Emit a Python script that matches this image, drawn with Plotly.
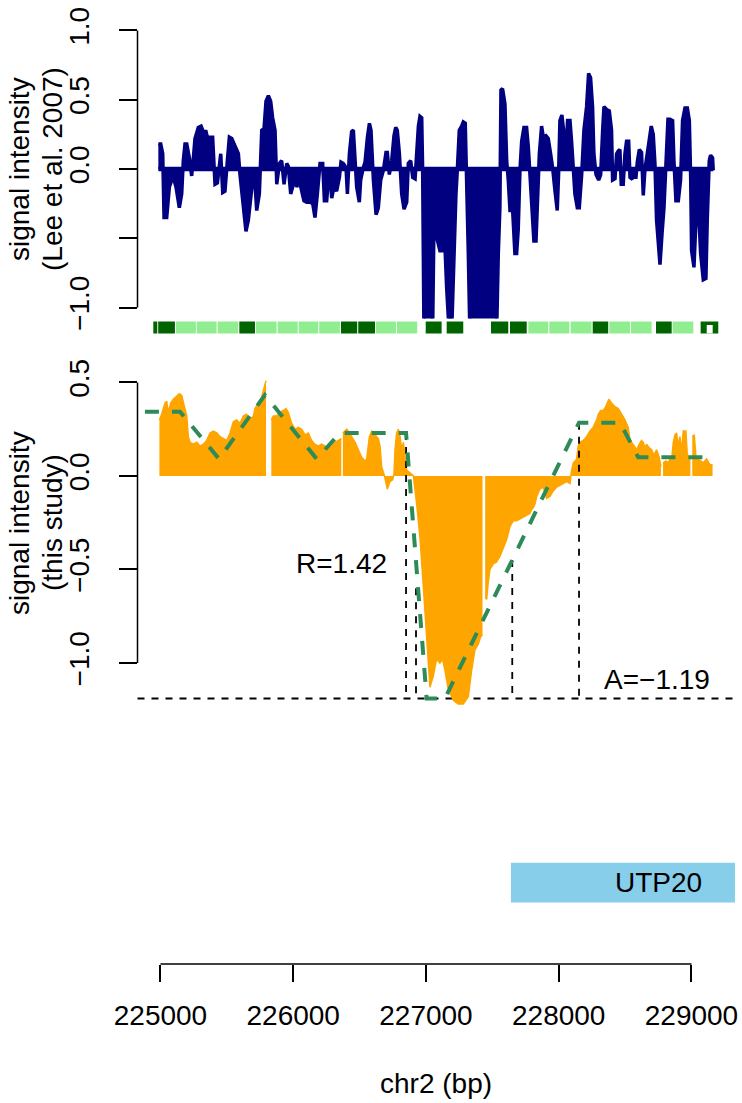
import plotly.graph_objects as go

# ---------------- data ----------------
# Lee et al. 2007 signal (top panel)
lee_pos = [224984, 225002, 225017, 225027, 225047, 225067, 225085, 225097, 225117, 225142,
           225160, 225172, 225185, 225198, 225218, 225235, 225248, 225260, 225285, 225306,
           225323, 225343, 225361, 225373, 225393, 225411, 225429, 225444, 225454, 225469,
           225486, 225504, 225519, 225537, 225562, 225587, 225599, 225624, 225644, 225662,
           225687, 225705, 225725, 225745, 225763, 225780, 225795, 225813, 225830, 225845,
           225863, 225876, 225896, 225913, 225931, 225951, 225963, 225981, 226001, 226014,
           226026, 226046, 226064, 226081, 226102, 226127, 226147, 226164, 226182, 226202,
           226222, 226235, 226252, 226272, 226290, 226307, 226327, 226348, 226360, 226378,
           226398, 226408, 226423, 226440, 226453, 226466, 226478, 226498, 226508, 226528,
           226541, 226559, 226574, 226586, 226604, 226624, 226641, 226659, 226679, 226699,
           226709, 226724, 226742, 226759, 226772, 226784, 226800, 226817, 226835, 226855,
           226867, 226885, 226900, 226918, 226930, 226943, 226955, 226968, 226975, 226985,
           227050, 227060, 227080, 227105, 227125, 227135, 227156, 227176, 227193, 227211,
           227226, 227236, 227251, 227269, 227281, 227296, 227306, 227319, 227331, 227532,
           227545, 227557, 227565, 227577, 227595, 227608, 227620, 227633, 227653, 227670,
           227683, 227695, 227708, 227721, 227738, 227758, 227771, 227783, 227796, 227813,
           227829, 227839, 227854, 227871, 227884, 227904, 227921, 227939, 227954, 227972,
           227989, 227999, 228009, 228024, 228039, 228054, 228067, 228085, 228097, 228110,
           228122, 228140, 228155, 228173, 228190, 228210, 228225, 228240, 228255, 228265,
           228281, 228301, 228316, 228331, 228341, 228361, 228381, 228398, 228406, 228424,
           228436, 228449, 228461, 228471, 228486, 228499, 228511, 228527, 228537, 228549,
           228567, 228582, 228592, 228607, 228624, 228637, 228650, 228667, 228682, 228697,
           228712, 228725, 228737, 228752, 228763, 228778, 228793, 228808, 228823, 228838,
           228858, 228868, 228883, 228901, 228918, 228933, 228951, 228969, 228984, 228994,
           229001, 229019, 229034, 229051, 229069, 229089, 229109, 229119, 229134, 229144,
           229159, 229164]
lee_val = [0.18, 0.18, 0.11, -0.35, -0.35, -0.13, -0.08, -0.06, -0.13, -0.28,
           -0.18, 0.06, 0.18, 0.18, 0.08, -0.05, 0.08, 0.22, 0.30, 0.31,
           0.27, 0.27, 0.20, 0.23, 0.23, -0.11, -0.10, 0.06, 0.11, -0.17,
           -0.16, 0.06, 0.23, 0.22, 0.16, 0.11, -0.04, -0.30, -0.45, -0.37,
           -0.11, 0.01, -0.30, -0.18, 0.28, 0.29, 0.49, 0.53, 0.49, 0.37,
           0.28, -0.11, 0.04, 0.06, -0.11, 0.04, 0.02, -0.18, -0.11, -0.04,
           -0.13, -0.08, -0.16, -0.23, -0.24, -0.24, -0.25, -0.35, -0.18, 0.04,
           0.04, -0.23, -0.23, 0.01, -0.21, -0.13, -0.16, -0.06, 0.05, 0.04,
           0.01, -0.18, 0.11, 0.27, 0.28, 0.11, -0.13, -0.24, -0.08, 0.01,
           0.05, 0.23, 0.33, 0.28, -0.08, -0.33, -0.28, -0.08, -0.01, 0.12,
           0.12, -0.04, 0.06, 0.24, 0.30, 0.28, 0.11, -0.18, -0.29, -0.24,
           0.04, 0.06, -0.06, -0.07, 0.11, 0.31, 0.38, 0.37, 0.0, -1.2,
           -1.2, -0.42, -0.49, -0.59, -0.59, -0.37, -0.86, -1.2, -1.2, -0.61,
           -0.18, -0.01, 0.28, 0.31, 0.34, 0.33, 0.01, -0.61, -1.2, -1.2,
           -0.61, -0.28, 0.57, 0.58, 0.47, 0.06, -0.08, -0.30, -0.30, -0.61,
           -0.61, -0.44, -0.01, 0.20, 0.30, 0.30, 0.16, -0.04, -0.28, -0.52,
           -0.52, -0.30, 0.11, 0.31, 0.23, 0.24, 0.22, 0.11, 0.01, -0.16,
           -0.30, -0.04, 0.35, 0.39, 0.28, 0.13, 0.35, 0.35, 0.20, 0.01,
           -0.18, -0.28, -0.28, -0.04, 0.28, 0.45, 0.69, 0.66, 0.45, 0.11,
           -0.04, -0.08, -0.04, 0.28, 0.45, 0.43, 0.42, 0.28, -0.08, -0.07,
           0.11, 0.13, 0.14, -0.11, -0.11, 0.11, 0.20, 0.20, -0.06, -0.07,
           -0.06, -0.06, 0.05, 0.14, 0.12, -0.19, 0.00, 0.11, 0.23, 0.31,
           0.25, 0.04, -0.37, -0.61, -0.69, -0.47, -0.28, 0.04, 0.36, 0.36,
           0.35, 0.06, -0.23, -0.23, -0.08, 0.35, 0.44, 0.44, 0.35, -0.06,
           -0.59, -0.71, -0.37, -0.25, -0.61, -0.80, -0.79, -0.37, 0.06, 0.10,
           0.08, -0.01]

# this-study signal (middle panel); None marks a gap between probe blocks
study_pos = [224992, 225009, 225034, 225047, 225059, 225077, 225097, 225122, 225142, 225160,
             225185, 225198, 225210, 225223, 225248, 225273, 225298, 225323, 225348, 225373,
             225398, 225424, 225449, 225474, 225499, 225524, 225549, 225574, 225599, 225624,
             225649, 225675, 225700, 225712, 225737, 225762, 225780, 225795, None,
             225835, 225850, 225876, 225901, 225926, 225946, 225963, 225989, 226014, 226039,
             226064, 226089, 226114, 226139, 226164, 226189, 226214, 226240, 226265, 226290,
             226315, 226340, 226362, None,
             226374, 226403, 226423, 226440, 226466, 226491, 226516, 226541, 226553, 226574,
             226591, 226616, 226641, 226654, 226666, 226684, 226699, 226709, 226729, 226749,
             226759, 226767, 226779, 226792, 226805, 226817, 226830, 226842, 226855, 226875,
             226893, 226905, 226930, 226955, 226980, 227005, 227030, 227055, 227080, 227105,
             227125, 227143, 227168, 227206, 227243, 227281, 227319, 227344, 227369, 227394,
             227412, 227426, None,
             227446, 227457, 227469, 227482, 227507, 227532, 227557, 227582, 227608, 227633,
             227658, 227683, 227708, 227733, 227758, 227783, 227796, 227808, 227821, 227834,
             227859, 227884, 227909, 227934, 227959, 227984, 228009, 228034, 228060, 228085,
             228097, 228110, 228135, 228147, 228160, 228185, 228210, 228235, 228260, 228286,
             228298, 228316, 228336, 228353, 228368, 228378, 228398, 228424, 228449, 228474,
             228499, 228524, 228537, 228549, 228567, 228587, 228607, 228624, 228637, 228650,
             228662, 228682, 228700, 228717, 228737, 228757, 228770, None,
             228786, 228808, 228825, 228838, 228850, 228863, 228876, 228888, 228901, 228913,
             228926, 228938, 228958, 228968, 228984, 228992, None,
             229006, 229021, 229034, 229051, 229069, 229089, 229114, 229139, 229159]
study_val = [0.30, 0.33, 0.39, 0.40, 0.34, 0.39, 0.41, 0.43, 0.44, 0.43,
             0.35, 0.32, 0.21, 0.18, 0.17, 0.18, 0.16, 0.17, 0.19, 0.23,
             0.24, 0.23, 0.21, 0.20, 0.19, 0.23, 0.29, 0.30, 0.28, 0.32,
             0.33, 0.30, 0.32, 0.36, 0.39, 0.42, 0.47, 0.51, None,
             0.30, 0.32, 0.32, 0.34, 0.35, 0.36, 0.34, 0.28, 0.25, 0.26,
             0.25, 0.22, 0.23, 0.19, 0.17, 0.16, 0.17, 0.16, 0.15, 0.16,
             0.18, 0.19, 0.20, None,
             0.23, 0.25, 0.23, 0.21, 0.18, 0.14, 0.10, 0.08, 0.09, 0.21,
             0.24, 0.22, 0.20, 0.16, 0.05, 0.01, -0.04, -0.07, -0.03, -0.02,
             0.01, 0.14, 0.23, 0.25, 0.21, 0.14, 0.18, 0.10, 0.03, 0.02,
             0.01, 0.0, -0.15, -0.33, -0.59, -0.86, -1.13, -1.07, -0.98, -1.00,
             -0.98, -1.04, -1.14, -1.20, -1.22, -1.22, -1.18, -1.04, -0.93, -0.90,
             -0.86, -0.85, None,
             -0.65, -0.66, -0.57, -0.50, -0.47, -0.46, -0.43, -0.38, -0.34, -0.27,
             -0.24, -0.24, -0.23, -0.22, -0.21, -0.20, -0.18, -0.17, -0.15, -0.11,
             -0.07, -0.06, -0.12, -0.11, -0.08, -0.06, -0.05, -0.04, -0.03, -0.04,
             0.03, 0.07, 0.09, 0.16, 0.18, 0.19, 0.21, 0.24, 0.26, 0.30,
             0.33, 0.35, 0.35, 0.37, 0.40, 0.41, 0.39, 0.37, 0.36, 0.33,
             0.30, 0.26, 0.19, 0.18, 0.16, 0.14, 0.17, 0.19, 0.18, 0.15,
             0.17, 0.15, 0.14, 0.11, 0.14, 0.10, 0.05, None,
             0.07, 0.08, 0.07, 0.09, 0.08, 0.18, 0.22, 0.23, 0.16, 0.21,
             0.13, 0.24, 0.24, 0.12, 0.09, 0.09, None,
             0.21, 0.22, 0.10, 0.09, 0.08, 0.07, 0.09, 0.06, 0.06]

# piecewise-linear fit (green dashed)
fit_pos = [224883, 225147, 225441, 225787, 226177, 226352, 226850, 227005, 227143,
           228153, 228462, 228599, 229164]
fit_val = [0.344, 0.344, 0.091, 0.433, 0.091, 0.23, 0.23, -1.19, -1.19,
           0.285, 0.285, 0.10, 0.10]

# segment markers (black dashed verticals) and summary values
mark_pos = [226850, 226925, 227650, 228153]
mark_top = [0.23, -0.60, -0.45, 0.285]
A_value = -1.19
R_value = 1.42
R_label_pos = (226365, -0.467)
A_label_pos = (228738, -1.09)

# probe tiling track (dark = D, light = L)
track_start = [224946, 224983, 225117, 225273, 225431, 225594, 225719, 225883, 226041,
               226196, 226360, 226490, 226623, 226781, 226998, 227156, 227490, 227633,
               227771, 227929, 228090, 228256, 228381, 228544, 228733, 228858, 229069]
track_end = [224976, 225109, 225267, 225423, 225586, 225712, 225875, 226034, 226189,
             226352, 226482, 226616, 226774, 226934, 227118, 227281, 227620, 227759,
             227921, 228080, 228248, 228373, 228537, 228700, 228851, 229014, 229202]
track_state = ['D', 'D', 'L', 'L', 'L', 'D', 'L', 'L', 'L', 'L', 'D', 'D', 'L', 'L',
               'D', 'D', 'D', 'D', 'L', 'L', 'L', 'D', 'L', 'L', 'D', 'L', 'D']
track_hole = (229115, 229160)

# gene annotation
gene_name = "UTP20"
gene_start = 227640
gene_end = 229860
gene_label_pos = 228750

# axes
x_ticks = [225000, 226000, 227000, 228000, 229000]
top_ticks = [-1.0, -0.5, 0.0, 0.5, 1.0]
top_ticktext = ["\u22121.0", "", "0.0", "0.5", "1.0"]
mid_ticks = [-1.0, -0.5, 0.0, 0.5]
mid_ticktext = ["\u22121.0", "\u22120.5", "0.0", "0.5"]

# ---------------- figure ----------------
W, H = 742, 1103
FONT = "Liberation Sans, Arial, Helvetica, sans-serif"
FS = 28
NAVY = "#000080"
ORANGE = "#FFA500"
SEAGREEN = "#2E8B57"
DARKGREEN = "#006400"
LIGHTGREEN = "#90EE90"
SKYBLUE = "#87CEEB"


def fx(p):   # page pixel x -> paper
    return p / W


def fy(p):   # page pixel y -> paper
    return 1 - p / H


XR = [224827, 229328]
dom_x = [fx(137.5), fx(735)]

fig = go.Figure()

# top: Lee et al. signal
fig.add_trace(go.Scatter(x=lee_pos, y=lee_val, mode="lines", fill="tozeroy",
                         fillcolor=NAVY, line=dict(color=NAVY, width=3.5),
                         xaxis="x", yaxis="y", hoverinfo="skip"))
fig.add_trace(go.Scatter(x=[lee_pos[0], lee_pos[-1]], y=[0, 0], mode="lines",
                         line=dict(color=NAVY, width=4.5), xaxis="x", yaxis="y",
                         hoverinfo="skip"))

# middle: this study signal, split into blocks at gaps
seg_x, seg_y = [], []
for px_, vy_ in zip(study_pos + [None], study_val + [None]):
    if px_ is None:
        if seg_x:
            fig.add_trace(go.Scatter(x=seg_x, y=seg_y, mode="lines", fill="tozeroy",
                                     fillcolor=ORANGE, line=dict(color=ORANGE, width=1.5),
                                     xaxis="x2", yaxis="y2", hoverinfo="skip"))
        seg_x, seg_y = [], []
    else:
        seg_x.append(px_)
        seg_y.append(vy_)

# black dashed verticals
vx, vy = [], []
for p, t in zip(mark_pos, mark_top):
    vx += [p, p, None]
    vy += [t, A_value, None]
fig.add_trace(go.Scatter(x=vx, y=vy, mode="lines",
                         line=dict(color="black", width=1.8, dash="7px,7px"),
                         xaxis="x2", yaxis="y2", hoverinfo="skip"))

# fit line
fig.add_trace(go.Scatter(x=fit_pos, y=fit_val, mode="lines",
                         line=dict(color=SEAGREEN, width=4, dash="14px,13px"),
                         xaxis="x2", yaxis="y2", hoverinfo="skip"))

shapes = []
# horizontal A line across the middle plot region
shapes.append(dict(type="line", xref="x2 domain", yref="y2", x0=0, x1=1,
                   y0=A_value, y1=A_value, layer="below",
                   line=dict(color="black", width=1.8, dash="7px,7px")))

# tiling track
ty0, ty1 = fy(333.5), fy(321.5)
for s, e, st in zip(track_start, track_end, track_state):
    shapes.append(dict(type="rect", xref="x", yref="paper", x0=s, x1=e, y0=ty0, y1=ty1,
                       fillcolor=DARKGREEN if st == "D" else LIGHTGREEN,
                       line=dict(width=0), layer="above"))
shapes.append(dict(type="rect", xref="x", yref="paper", x0=track_hole[0], x1=track_hole[1],
                   y0=ty0, y1=fy(325), fillcolor="white", line=dict(width=0),
                   layer="above"))

# gene box
shapes.append(dict(type="rect", xref="x3", yref="y3", x0=gene_start, x1=gene_end,
                   y0=0.274, y1=0.452, fillcolor=SKYBLUE, line=dict(width=0),
                   layer="below"))

# axis lines spanning the tick range (R style)
shapes.append(dict(type="line", xref="x domain", yref="y", x0=0, x1=0,
                   y0=top_ticks[0], y1=top_ticks[-1], line=dict(color="black", width=1.5)))
shapes.append(dict(type="line", xref="x2 domain", yref="y2", x0=0, x1=0,
                   y0=mid_ticks[0], y1=mid_ticks[-1], line=dict(color="black", width=1.5)))
shapes.append(dict(type="line", xref="x3", yref="y3 domain", x0=x_ticks[0], x1=x_ticks[-1],
                   y0=0, y1=0, line=dict(color="black", width=1.5)))

annotations = [
    dict(text="signal intensity", xref="paper", yref="paper", x=fx(19), y=fy(169),
         textangle=-90, showarrow=False, xanchor="center", yanchor="middle"),
    dict(text="(Lee et al. 2007)", xref="paper", yref="paper", x=fx(52), y=fy(169),
         textangle=-90, showarrow=False, xanchor="center", yanchor="middle"),
    dict(text="signal intensity", xref="paper", yref="paper", x=fx(19), y=fy(523),
         textangle=-90, showarrow=False, xanchor="center", yanchor="middle"),
    dict(text="(this study)", xref="paper", yref="paper", x=fx(52), y=fy(523),
         textangle=-90, showarrow=False, xanchor="center", yanchor="middle"),
    dict(text="R=%.2f" % R_value, xref="x2", yref="y2", x=R_label_pos[0], y=R_label_pos[1],
         showarrow=False, xanchor="center", yanchor="middle"),
    dict(text="A=\u2212%.2f" % abs(A_value), xref="x2", yref="y2", x=A_label_pos[0],
         y=A_label_pos[1], showarrow=False, xanchor="center", yanchor="middle"),
    dict(text=gene_name, xref="x3", yref="y3", x=gene_label_pos, y=0.363,
         showarrow=False, xanchor="center", yanchor="middle"),
    dict(text="chr2 (bp)", xref="paper", yref="paper", x=fx(436.5), y=fy(1083),
         showarrow=False, xanchor="center", yanchor="middle"),
]

yaxis_common = dict(showgrid=False, zeroline=False, showline=False, ticks="outside",
                    ticklen=18, tickwidth=1.5, tickcolor="black", tickangle=-90,
                    automargin=False, ticklabelstandoff=18, ticklabeloverflow="allow",
                    tickfont=dict(size=FS, family=FONT, color="black"))

fig.update_layout(
    template="none",
    width=W, height=H, margin=dict(l=0, r=0, t=0, b=0, pad=0), autosize=False,
    paper_bgcolor="white", plot_bgcolor="white", showlegend=False,
    font=dict(family=FONT, size=FS, color="black"),
    xaxis=dict(domain=dom_x, range=XR, visible=False, anchor="y", automargin=False),
    yaxis=dict(domain=[fy(318.6), fy(19.4)], range=[-1.08, 1.08], anchor="x",
               tickvals=top_ticks, ticktext=top_ticktext, **yaxis_common),
    xaxis2=dict(domain=dom_x, range=XR, visible=False, anchor="y2", automargin=False),
    yaxis2=dict(domain=[fy(717), fy(367.5)], range=[-1.289, 0.580], anchor="x2",
                tickvals=mid_ticks, ticktext=mid_ticktext, **yaxis_common),
    xaxis3=dict(domain=dom_x, range=XR, anchor="y3", showgrid=False, zeroline=False,
                showline=False, ticks="outside", ticklen=17, tickwidth=1.5,
                tickcolor="black", tickvals=x_ticks, ticktext=[str(v) for v in x_ticks],
                automargin=False, ticklabelstandoff=9, ticklabeloverflow="allow",
                tickfont=dict(size=FS, family=FONT, color="black")),
    yaxis3=dict(domain=[fy(964), fy(740)], range=[0, 1], visible=False, anchor="x3",
                automargin=False),
    shapes=shapes,
    annotations=annotations,
)

# remove the default 8px page margin so the figure sits at the window origin
fig.write_html("out.html", config={"displayModeBar": False},
               post_script="document.body.style.margin='0';document.body.style.padding='0';")
